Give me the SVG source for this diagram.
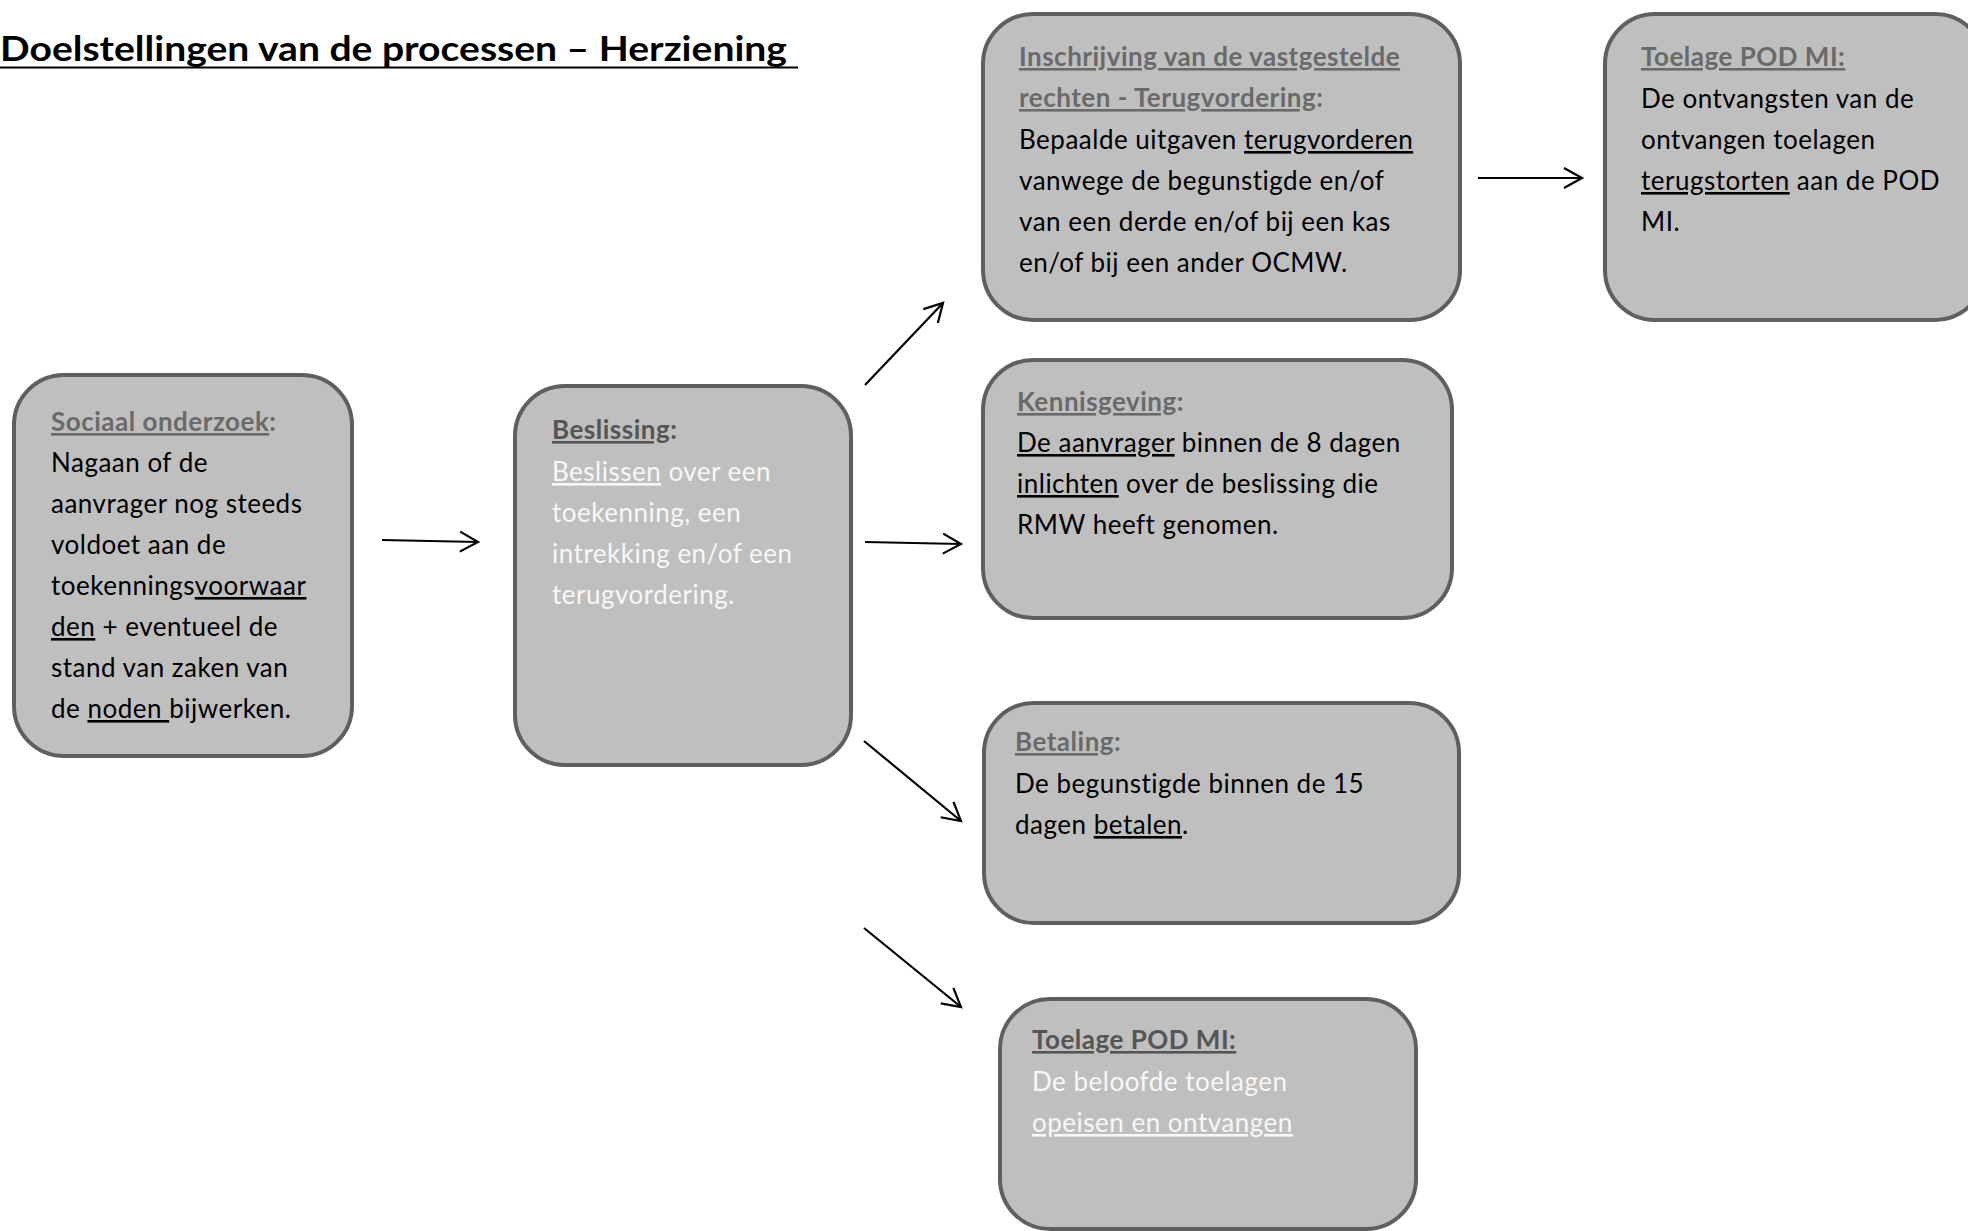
<svg xmlns="http://www.w3.org/2000/svg" width="1968" height="1231" viewBox="0 0 1968 1231">
<style>
.box{fill:#bfbfbf;stroke:#5f5f5f;stroke-width:4}
.t{font-family:Lato,"Liberation Sans",sans-serif;font-size:26px;letter-spacing:0.5px;fill:#000}
.h{font-weight:700;fill:#6a6a6a}
.hd{font-weight:700;fill:#555555}
.w{fill:#f7f7f7}
.u{text-decoration:underline}
.title{font-family:Lato,"Liberation Sans",sans-serif;font-size:34px;font-weight:700;fill:#000}
.c{stroke:#000;stroke-width:2.2;fill:none}
</style>
<defs>
<marker id="ah" markerUnits="userSpaceOnUse" markerWidth="40" markerHeight="40" viewBox="-20 -20 40 40" refX="0" refY="0" orient="auto">
<path d="M-18,-10 L0,0 L-18,10" fill="none" stroke="#000" stroke-width="2.2"/>
</marker>
</defs>
<text class="title" x="0" y="61" textLength="787" lengthAdjust="spacingAndGlyphs">Doelstellingen van de processen – Herziening</text>
<line x1="0" y1="67.5" x2="798" y2="67.5" stroke="#000" stroke-width="2.2"/>

<g id="connectors">
<line class="c" x1="382" y1="540" x2="478" y2="542" marker-end="url(#ah)"/>
<line class="c" x1="865" y1="385" x2="943" y2="303" marker-end="url(#ah)"/>
<line class="c" x1="865" y1="542" x2="961" y2="544" marker-end="url(#ah)"/>
<line class="c" x1="864" y1="741" x2="961" y2="821" marker-end="url(#ah)"/>
<line class="c" x1="864" y1="928" x2="961" y2="1007" marker-end="url(#ah)"/>
<line class="c" x1="1478" y1="178" x2="1582" y2="178" marker-end="url(#ah)"/>
</g>

<g id="sociaal-onderzoek">
<rect class="box" x="14" y="375" width="338" height="381" rx="50"/>
<text class="t" x="51" y="431"><tspan class="h u">Sociaal onderzoek</tspan><tspan class="h">:</tspan></text>
<text class="t" x="51" y="472">Nagaan of de</text>
<text class="t" x="51" y="513">aanvrager nog steeds</text>
<text class="t" x="51" y="554">voldoet aan de</text>
<text class="t" x="51" y="595">toekennings<tspan class="u">voorwaar</tspan></text>
<text class="t" x="51" y="636"><tspan class="u">den</tspan> + eventueel de</text>
<text class="t" x="51" y="677">stand van zaken van</text>
<text class="t" x="51" y="718">de <tspan class="u">noden </tspan>bijwerken.</text>
</g>

<g id="beslissing">
<rect class="box" x="515" y="386" width="336" height="379" rx="50"/>
<text class="t" x="552" y="439"><tspan class="hd u">Beslissing</tspan><tspan class="hd">:</tspan></text>
<text class="t w" x="552" y="481"><tspan class="u">Beslissen</tspan> over een</text>
<text class="t w" x="552" y="522">toekenning, een</text>
<text class="t w" x="552" y="563">intrekking en/of een</text>
<text class="t w" x="552" y="604">terugvordering.</text>
</g>

<g id="inschrijving">
<rect class="box" x="983" y="14" width="477" height="306" rx="50"/>
<text class="t" x="1019" y="66"><tspan class="h u">Inschrijving van de vastgestelde</tspan></text>
<text class="t" x="1019" y="107"><tspan class="h u">rechten - Terugvordering</tspan><tspan class="h">:</tspan></text>
<text class="t" x="1019" y="149">Bepaalde uitgaven <tspan class="u">terugvorderen</tspan></text>
<text class="t" x="1019" y="190">vanwege de begunstigde en/of</text>
<text class="t" x="1019" y="231">van een derde en/of bij een kas</text>
<text class="t" x="1019" y="272">en/of bij een ander OCMW.</text>
</g>

<g id="toelage-terugstorten">
<rect class="box" x="1605" y="14" width="380" height="306" rx="50"/>
<text class="t" x="1641" y="66"><tspan class="h u">Toelage POD MI:</tspan></text>
<text class="t" x="1641" y="108">De ontvangsten van de</text>
<text class="t" x="1641" y="149">ontvangen toelagen</text>
<text class="t" x="1641" y="190"><tspan class="u">terugstorten</tspan> aan de POD</text>
<text class="t" x="1641" y="231">MI.</text>
</g>

<g id="kennisgeving">
<rect class="box" x="983" y="360" width="469" height="258" rx="50"/>
<text class="t" x="1017" y="411"><tspan class="h u">Kennisgeving</tspan><tspan class="h">:</tspan></text>
<text class="t" x="1017" y="452"><tspan class="u">De aanvrager</tspan> binnen de 8 dagen</text>
<text class="t" x="1017" y="493"><tspan class="u">inlichten</tspan> over de beslissing die</text>
<text class="t" x="1017" y="534">RMW heeft genomen.</text>
</g>

<g id="betaling">
<rect class="box" x="984" y="703" width="475" height="220" rx="50"/>
<text class="t" x="1015" y="751"><tspan class="h u">Betaling</tspan><tspan class="h">:</tspan></text>
<text class="t" x="1015" y="793">De begunstigde binnen de 15</text>
<text class="t" x="1015" y="834">dagen <tspan class="u">betalen</tspan>.</text>
</g>

<g id="toelage-opeisen">
<rect class="box" x="1000" y="999" width="416" height="230" rx="50"/>
<text class="t" x="1032" y="1049"><tspan class="hd u">Toelage POD MI:</tspan></text>
<text class="t w" x="1032" y="1091">De beloofde toelagen</text>
<text class="t w" x="1032" y="1132"><tspan class="u">opeisen en ontvangen</tspan></text>
</g>
</svg>
